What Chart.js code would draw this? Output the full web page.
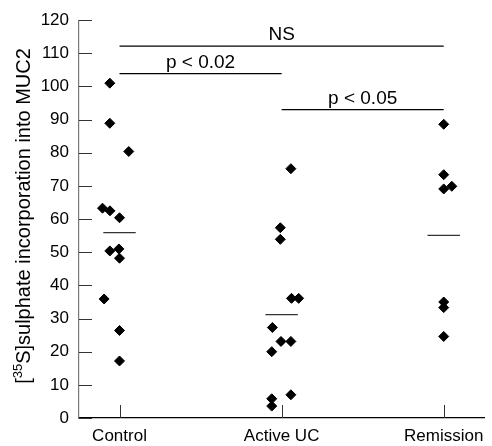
<!DOCTYPE html>
<html>
<head>
<meta charset="utf-8">
<script src="https://cdn.jsdelivr.net/npm/chart.js@4/dist/chart.umd.min.js"></script>
<style>
html,body{margin:0;padding:0;background:#fff;}
#wrap{width:492px;height:446px;position:relative;}
</style>
</head>
<body>
<div id="wrap"><canvas id="c" width="492" height="446"></canvas></div>
<script>
// ---- data ----
const categories = ['Control', 'Active UC', 'Remission'];
const yTicks = [0, 10, 20, 30, 40, 50, 60, 70, 80, 90, 100, 110, 120];

const controlValues = [101, 88.9, 80.4, 63.3, 62.5, 60.4, 50.4, 51.0, 48.2, 35.9, 26.4, 17.2];
const controlJitter = [-0.06, -0.06, 0.057, -0.105, -0.059, 0, -0.06, -0.004, 0, -0.095, 0, 0];

const activeValues = [75.2, 57.4, 53.9, 36.1, 36.1, 27.3, 23.1, 23.1, 20.0, 7.0, 5.8, 3.6];
const activeJitter = [0.057, -0.008, -0.008, 0.061, 0.105, -0.057, -0.004, 0.057, -0.061, 0.057, -0.061, -0.061];

const remissionValues = [88.6, 73.4, 69.9, 69.1, 35.0, 33.3, 24.6];
const remissionJitter = [0, 0, 0.05, 0, 0, 0, 0];

const groupMeans = [55.9, 31.2, 55.1];

const sigLabels = ['NS', 'p < 0.02', 'p < 0.05'];
const sigFrom = [0, 0, 1];
const sigTo = [2, 1, 2];
const sigLevel = [112.2, 103.9, 93.0];

// ---- build datasets ----
const FONT = "'Liberation Sans', Arial, sans-serif";
function pts(values, jitter, idx) {
  return values.map((v, i) => ({ x: idx + jitter[i], y: v }));
}
const groups = [
  pts(controlValues, controlJitter, 0),
  pts(activeValues, activeJitter, 1),
  pts(remissionValues, remissionJitter, 2)
];
const datasets = [];
groups.forEach((g, i) => {
  datasets.push({
    type: 'scatter', label: categories[i], data: g,
    pointStyle: 'rectRot', pointRadius: 5, pointHoverRadius: 5,
    backgroundColor: '#000', borderColor: '#000', borderWidth: 1
  });
});
groupMeans.forEach((m, i) => {
  datasets.push({
    type: 'line', label: 'mean ' + categories[i],
    data: [{ x: i - 0.1, y: m }, { x: i + 0.1, y: m }],
    borderColor: '#333', borderWidth: 1.3, pointRadius: 0, fill: false
  });
});
sigLabels.forEach((s, i) => {
  datasets.push({
    type: 'line', label: s,
    data: [{ x: sigFrom[i], y: sigLevel[i] }, { x: sigTo[i], y: sigLevel[i] }],
    borderColor: '#000', borderWidth: 1.2, pointRadius: 0, fill: false
  });
});

// ---- plugins ----
const decor = {
  id: 'decor',
  afterDraw(chart) {
    const ctx = chart.ctx;
    const xs = chart.scales.x, ys = chart.scales.y;
    const a = chart.chartArea;
    ctx.save();
    // inside tick marks on y axis
    ctx.strokeStyle = '#333';
    ctx.lineWidth = 1;
    yTicks.forEach(t => {
      const y = Math.round(ys.getPixelForValue(t)) + 0.5;
      ctx.beginPath();
      ctx.moveTo(a.left, y);
      ctx.lineTo(a.left + 13, y);
      ctx.stroke();
    });
    // inside tick marks on x axis
    categories.forEach((c, i) => {
      const x = Math.round(xs.getPixelForValue(i)) + 0.5;
      ctx.beginPath();
      ctx.moveTo(x, a.bottom);
      ctx.lineTo(x, a.bottom - 13);
      ctx.stroke();
    });
    // significance labels
    ctx.fillStyle = '#000';
    ctx.font = '19px ' + FONT;
    ctx.textAlign = 'center';
    ctx.textBaseline = 'alphabetic';
    sigLabels.forEach((s, i) => {
      const x = xs.getPixelForValue((sigFrom[i] + sigTo[i]) / 2);
      const y = ys.getPixelForValue(sigLevel[i]);
      ctx.fillText(s, x, y - 6);
    });
    // y title with superscript
    ctx.translate(24, 216);
    ctx.rotate(-Math.PI / 2);
    const big = '20px ' + FONT, small = '13px ' + FONT;
    const p1 = '[', p2 = '35', p3 = 'S]sulphate incorporation into MUC2';
    ctx.font = big; const w1 = ctx.measureText(p1).width, w3 = ctx.measureText(p3).width;
    ctx.font = small; const w2 = ctx.measureText(p2).width;
    let x0 = -(w1 + w2 + w3) / 2;
    ctx.textAlign = 'left';
    ctx.textBaseline = 'middle';
    ctx.font = big; ctx.fillText(p1, x0, 0); x0 += w1;
    ctx.font = small; ctx.fillText(p2, x0, -6); x0 += w2;
    ctx.font = big; ctx.fillText(p3, x0, 0);
    ctx.restore();
  }
};

new Chart(document.getElementById('c'), {
  data: { datasets },
  options: {
    responsive: false,
    animation: false,
    layout: { padding: { top: 17, right: 2, left: 0, bottom: 0 } },
    plugins: { legend: { display: false }, tooltip: { enabled: false } },
    scales: {
      x: {
        type: 'linear', min: -0.25, max: 2.25,
        afterBuildTicks: s => { s.ticks = categories.map((c, i) => ({ value: i })); },
        afterFit: s => { s.height = 28; },
        grid: { display: false, drawTicks: false },
        border: { display: true, color: '#000', width: 1.2 },
        ticks: {
          padding: 8, color: '#000', maxRotation: 0, autoSkip: false,
          font: { family: FONT, size: 17 },
          callback: v => categories[v] ?? ''
        }
      },
      y: {
        type: 'linear', min: 0, max: 120,
        afterBuildTicks: s => { s.ticks = yTicks.map(v => ({ value: v })); },
        afterFit: s => { s.width = 79; },
        grid: { display: false, drawTicks: false },
        border: { display: true, color: '#777', width: 1.2 },
        ticks: {
          padding: 10, color: '#000',
          font: { family: FONT, size: 17 }
        }
      }
    }
  },
  plugins: [decor]
});
</script>
</body>
</html>
